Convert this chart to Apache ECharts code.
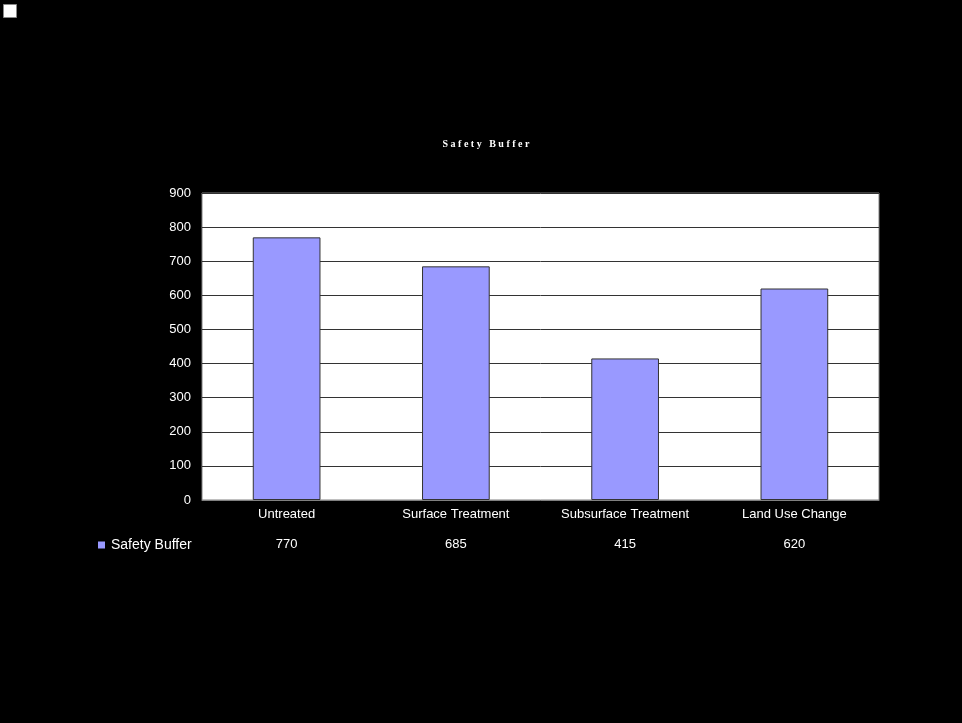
<!DOCTYPE html>
<html>
<head>
<meta charset="utf-8">
<script src="https://cdn.jsdelivr.net/npm/echarts@6/dist/echarts.min.js"></script>
<style>
  html, body { margin: 0; padding: 0; background: #000; }
  #chart { width: 962px; height: 723px; }
</style>
</head>
<body>
<div id="chart"></div>
<script>
"use strict";

// categories and values
const categories = ["Untreated", "Surface Treatment", "Subsurface Treatment", "Land Use Change"];
const seriesName = "Safety Buffer";
const buffer = [770, 685, 415, 620];

const chart = echarts.init(document.getElementById("chart"));

chart.setOption({
  backgroundColor: "#000",
  animation: false,
  title: {
    text: "S a f e t y   B u f f e r",
    left: 481,
    top: 134,
    textAlign: "center",
    textStyle: {
      color: "#fff",
      fontFamily: "Liberation Serif",
      fontWeight: "bold",
      fontSize: 10,
    },
  },
  legend: {
    left: 93,
    top: 533,
    icon: "rect",
    itemWidth: 7,
    itemHeight: 7,
    itemGap: 4,
    itemStyle: { borderWidth: 0 },
    textStyle: { color: "#fff", fontFamily: "Liberation Sans", fontSize: 14, padding: [0, 0, 0, 1] },
    data: [seriesName],
  },
  grid: {
    left: 202,
    top: 193,
    width: 677,
    height: 307,
    show: true,
    backgroundColor: "#fff",
    borderColor: "#808080",
    borderWidth: 1,
  },
  xAxis: [
    {
      type: "category",
      data: categories,
      axisLine: { show: true, lineStyle: { color: "#808080" } },
      axisTick: { show: false },
      axisLabel: { color: "#fff", fontFamily: "Liberation Sans", fontSize: 13, margin: 8 },
    },
    {
      // data table row
      type: "category",
      position: "bottom",
      offset: 30,
      data: buffer.map(String),
      axisLine: { show: false },
      axisTick: { show: false },
      axisLabel: { color: "#fff", fontFamily: "Liberation Sans", fontSize: 13, margin: 8 },
    },
  ],
  yAxis: {
    type: "value",
    min: 0,
    max: 900,
    interval: 100,
    axisLine: { show: false },
    axisTick: { show: false },
    axisLabel: { color: "#fff", fontFamily: "Liberation Sans", fontSize: 13, margin: 11 },
    splitLine: { show: true, lineStyle: { color: "#333", width: 1 } },
  },
  series: [
    {
      name: seriesName,
      type: "bar",
      data: buffer,
      barWidth: "40%",
      itemStyle: { color: "#9999FF", borderColor: "#333", borderWidth: 1 },
    },
  ],
  graphic: [
    {
      type: "rect",
      left: 3,
      top: 4,
      shape: { width: 13, height: 13 },
      style: { fill: "#fff", stroke: "#888", lineWidth: 1 },
    },
  ],
});
</script>
</body>
</html>
